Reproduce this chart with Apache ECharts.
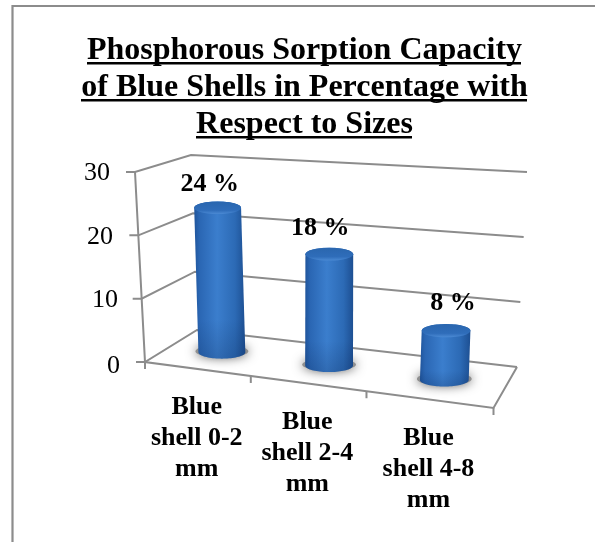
<!DOCTYPE html>
<html><head><meta charset="utf-8">
<style>html,body{margin:0;padding:0;background:#fff}#c{width:595px;height:542px}</style>
<script src="https://cdn.jsdelivr.net/npm/echarts@6/dist/echarts.min.js"></script>
</head><body><div id="c"></div>
<script>
const categories = ['Blue\nshell 0-2\nmm', 'Blue\nshell 2-4\nmm', 'Blue\nshell 4-8\nmm'];
const values = [24, 18, 8];
const yTicks = [0, 10, 20, 30];
const titleLines = ['Phosphorous Sorption Capacity', 'of Blue Shells in Percentage with', 'Respect to Sizes'];

// layout of the Excel-style 3-D box
const FONT = '"Liberation Serif", serif';
const GRAY = '#8c8c8c';
const labelDx = [-8, -9, 7], labelDy = [-23, -26, -27];
const catDrop = 23;
const lerp = (a, b, t) => [a[0] + (b[0] - a[0]) * t, a[1] + (b[1] - a[1]) * t];
function project(u, v, w) {
  const tF = u / (u + 1.147 * (1 - u)), tB = u / (u + 1.08 * (1 - u));
  const front = lerp(lerp([145, 362], [493.5, 408], tF), lerp([135, 172], [503, 196], tF), v);
  const back = lerp(lerp([197, 330], [517, 367], tB), lerp([191, 155], [527, 172], tB), v);
  return lerp(front, back, w);
}
const norm = (p, cs) => [(p[0] - cs.x) / cs.width, (cs.y + cs.height - p[1]) / cs.height];
const line = (pts, w) => ({ type: 'polyline', shape: { points: pts }, style: { stroke: GRAY, lineWidth: w || 2, fill: 'none' } });

const renderGrid = (params, api) => {
  const cs = params.coordSys;
  const [, v] = norm(api.coord([0, api.value(0)]), cs);
  const a = project(0, v, 0);
  return { type: 'group', children: [line([[a[0] - 9, a[1]], a, project(0, v, 1), project(1, v, 1)])] };
};
const renderFrame = (params, api) => {
  const cs = params.coordSys;
  const bw = api.size([1, 0])[0];
  const i = api.value(0);
  const edge = (api.coord([i, 0])[0] + bw / 2 - cs.x) / cs.width;
  const kids = [];
  const e = project(edge, 0, 0);
  kids.push(line([e, [e[0], e[1] + 7]]));
  if (i === 0) {
    const o = project(0, 0, 0);
    kids.push(line([o, [o[0], o[1] + 7]]));
    kids.push(line([project(0, 1, 0), o, project(1, 0, 0), project(1, 0, 1)]));
  }
  return { type: 'group', children: kids };
};
const renderBar = (params, api) => {
  const cs = params.coordSys;
  const i = api.value(0);
  const [u, v] = norm(api.coord([i, api.value(1)]), cs);
  const b = project(u, 0, 0.5), t = project(u, v, 0.5);
  t[1] += 4;
  const rx = 23.2 + u * 1.4, ry = rx * 0.27;
  const pts = [];
  const N = 40;
  for (let k = 0; k <= N; k++) { const a = Math.PI * k / N; pts.push([t[0] - rx * Math.cos(a), t[1] - ry * Math.sin(a)]); }
  for (let k = 0; k <= N; k++) { const a = Math.PI * k / N; pts.push([b[0] + rx * Math.cos(a), b[1] + ry * Math.sin(a)]); }
  const body = [
    { offset: 0, color: '#1f549b' }, { offset: 0.1, color: '#2a66b3' }, { offset: 0.45, color: '#3b7ecd' },
    { offset: 0.8, color: '#2c6ab5' }, { offset: 1, color: '#1d4f92' }
  ];
  const kids = [
    { type: 'ellipse', shape: { cx: b[0], cy: b[1] - 1, rx: rx + 3, ry: ry },
      style: { fill: '#8f8f8f', shadowColor: 'rgba(85,85,85,1)', shadowBlur: 11 } },
    { type: 'polygon', shape: { points: pts }, style: { fill: new echarts.graphic.LinearGradient(0, 0, 1, 0, body) } },
    { type: 'polygon', shape: { points: pts }, style: { fill: new echarts.graphic.LinearGradient(0, 0, 0, 1, [
        { offset: 0, color: 'rgba(0,20,60,0)' }, { offset: 0.75, color: 'rgba(0,20,60,0)' }, { offset: 1, color: 'rgba(0,20,60,0.18)' }]) } },
    { type: 'ellipse', shape: { cx: t[0], cy: t[1], rx: rx, ry: ry },
      style: { fill: new echarts.graphic.LinearGradient(0, 0, 0, 1, [
        { offset: 0, color: '#2a66ae' }, { offset: 0.7, color: '#2f6dba' }, { offset: 1, color: '#4b8ad4' }]) } },
    { type: 'text', style: { text: api.value(1) + ' %', x: t[0] + labelDx[i], y: t[1] + labelDy[i],
        align: 'center', verticalAlign: 'middle', font: 'bold 26px ' + FONT, fill: '#000' } }
  ];
  return { type: 'group', children: kids };
};
const renderCat = (params, api) => {
  const cs = params.coordSys;
  const i = api.value(0);
  const [u] = norm(api.coord([i, 0]), cs);
  const p = project(u, 0, 0);
  return { type: 'text', style: { text: categories[i], x: p[0], y: p[1] + catDrop, align: 'center', verticalAlign: 'top',
    font: 'bold 26px ' + FONT, lineHeight: 31, fill: '#000' } };
};
const padR = { 30: 10, 20: 7, 10: 2, 0: 0 }, padT = { 30: 2, 20: 4, 10: 4, 0: 8 };
const rich = {};
yTicks.forEach(t => { rich['t' + t] = { fontFamily: FONT, fontSize: 26, color: '#000', padding: [padT[t], padR[t], 0, 0] }; });

const underlines = [[87, 521, 62], [81, 527, 99], [196, 412, 136]];
const chart = echarts.init(document.getElementById('c'), null, { renderer: 'canvas' });
chart.setOption({
  animation: false,
  backgroundColor: '#fff',
  title: { text: titleLines.join('\n'), left: 299.5, top: 27, textAlign: 'center',
    textStyle: { fontFamily: FONT, fontWeight: 'bold', fontSize: 32, lineHeight: 37, color: '#000' } },
  grid: { left: 145, top: 172, width: 348.5, height: 190 },
  xAxis: { type: 'category', data: categories, axisLine: { show: false }, axisTick: { show: false }, axisLabel: { show: false }, splitLine: { show: false } },
  yAxis: { type: 'value', min: 0, max: 30, interval: 10, axisLine: { show: false }, axisTick: { show: false }, splitLine: { show: false },
    axisLabel: { margin: 25, formatter: v => `{t${v}|${v}}`, rich } },
  graphic: [
    { type: 'polyline', shape: { points: [[12.5, 560], [12.5, 6], [610, 6]] }, style: { stroke: GRAY, lineWidth: 2.2, fill: 'none' }, silent: true },
    ...underlines.map(u => ({ type: 'rect', shape: { x: u[0], y: u[2], width: u[1] - u[0], height: 2.4 }, style: { fill: '#000' }, silent: true }))
  ],
  series: [
    { type: 'custom', coordinateSystem: 'cartesian2d', clip: false, z: 1, data: yTicks.map(t => [t]), encode: { y: 0 }, renderItem: renderGrid },
    { type: 'custom', coordinateSystem: 'cartesian2d', clip: false, z: 1, data: categories.map((c, i) => [i]), encode: { x: 0 }, renderItem: renderFrame },
    { type: 'custom', coordinateSystem: 'cartesian2d', clip: false, z: 2, data: categories.map((c, i) => [i]), encode: { x: 0 }, renderItem: renderCat },
    { type: 'custom', coordinateSystem: 'cartesian2d', clip: false, z: 3, data: values.map((v, i) => [i, v]), encode: { x: 0, y: 1 }, renderItem: renderBar }
  ]
});
</script></body></html>
